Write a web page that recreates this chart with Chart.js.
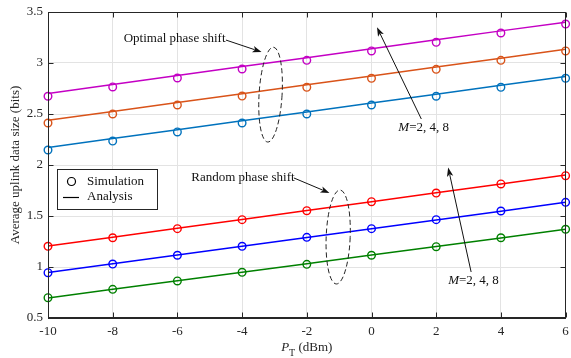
<!DOCTYPE html>
<html><head><meta charset="utf-8">
<script src="https://cdn.jsdelivr.net/npm/chart.js@4/dist/chart.umd.min.js"></script>
<style>html,body{margin:0;padding:0;background:#fff;}#wrap{width:571px;height:358px;position:relative;}</style>
</head><body><div id="wrap"><canvas id="c"></canvas></div>
<script>
// ---- data ----
const powerDbm = [-10, -8, -6, -4, -2, 0, 2, 4, 6];
const xTicks = [-10, -8, -6, -4, -2, 0, 2, 4, 6];
const yTicks = [0.5, 1, 1.5, 2, 2.5, 3, 3.5];

// Optimal phase shift (M = 8, 4, 2)
const optM8Sim = [2.674, 2.765, 2.853, 2.941, 3.026, 3.118, 3.203, 3.294, 3.382];
const optM8Ana = [2.702, 2.790, 2.877, 2.965, 3.052, 3.140, 3.227, 3.315, 3.400];
const optM4Sim = [2.412, 2.500, 2.588, 2.676, 2.762, 2.850, 2.938, 3.026, 3.118];
const optM4Ana = [2.438, 2.525, 2.612, 2.699, 2.786, 2.873, 2.960, 3.047, 3.134];
const optM2Sim = [2.147, 2.235, 2.324, 2.412, 2.500, 2.588, 2.674, 2.762, 2.850];
const optM2Ana = [2.172, 2.259, 2.346, 2.433, 2.520, 2.607, 2.694, 2.781, 2.868];

// Random phase shift (M = 8, 4, 2)
const rndM8Sim = [1.203, 1.287, 1.376, 1.464, 1.552, 1.640, 1.725, 1.814, 1.895];
const rndM8Ana = [1.205, 1.292, 1.379, 1.466, 1.553, 1.640, 1.727, 1.814, 1.901];
const rndM4Sim = [0.944, 1.029, 1.115, 1.203, 1.291, 1.376, 1.464, 1.549, 1.634];
const rndM4Ana = [0.945, 1.031, 1.117, 1.203, 1.289, 1.375, 1.461, 1.547, 1.635];
const rndM2Sim = [0.699, 0.781, 0.863, 0.948, 1.026, 1.115, 1.199, 1.287, 1.370];
const rndM2Ana = [0.697, 0.781, 0.865, 0.949, 1.033, 1.117, 1.201, 1.285, 1.369];

const seriesColors = ['#c400c4', '#d95319', '#0072bd', '#ff0000', '#0000ff', '#008000'];

// annotation anchors in data units
const optText = {x: -7.66, y: 3.235, label: 'Optimal phase shift'};
const optArrow = {x1: -4.50, y1: 3.225, x2: -3.40, y2: 3.108};
const optEllipse = {x: -3.12, y: 2.69};
const rndText = {x: -5.57, y: 1.873, label: 'Random phase shift'};
const rndArrow = {x1: -2.40, y1: 1.873, x2: -1.30, y2: 1.726};
const rndEllipse = {x: -1.03, y: 1.294};
const mLabel1 = {x: 0.83, y: 2.363};
const mArrow1 = {x1: 1.54, y1: 2.451, x2: 0.17, y2: 3.35};
const mLabel2 = {x: 2.37, y: 0.863};
const mArrow2 = {x1: 3.08, y1: 0.951, x2: 2.37, y2: 1.975};

const pts = arr => powerDbm.map((p, i) => ({x: p, y: arr[i]}));
const sims = [optM8Sim, optM4Sim, optM2Sim, rndM8Sim, rndM4Sim, rndM2Sim];
const anas = [optM8Ana, optM4Ana, optM2Ana, rndM8Ana, rndM4Ana, rndM2Ana];

const datasets = [];
anas.forEach((a, i) => datasets.push({
  data: pts(a), borderColor: seriesColors[i], borderWidth: 1.5,
  pointRadius: 0, showLine: true, fill: false, tension: 0
}));
sims.forEach((s, i) => datasets.push({
  data: pts(s), borderColor: seriesColors[i], backgroundColor: 'rgba(0,0,0,0)',
  showLine: false, pointRadius: 3.8, pointBorderWidth: 1.4, pointStyle: 'circle', clip: false
}));

const SERIF = '"Liberation Serif", "Times New Roman", serif';
const INK = '#262626';

const deco = {
  id: 'deco',
  afterDatasetsDraw(chart) {
    const {ctx, chartArea: a, scales: {x, y}} = chart;
    const X = v => x.getPixelForValue(v), Y = v => y.getPixelForValue(v);
    ctx.save();
    ctx.strokeStyle = INK; ctx.lineWidth = 1;
    const L = Math.round(a.left) + 0.5, R = Math.round(a.right) - 0.5;
    const T = Math.round(a.top) + 0.5, B = Math.round(a.bottom) - 0.5;
    ctx.beginPath();
    xTicks.forEach(v => {
      const px = Math.round(X(v)) + 0.5;
      ctx.moveTo(px, B); ctx.lineTo(px, B - 5);
      ctx.moveTo(px, T); ctx.lineTo(px, T + 5);
    });
    yTicks.forEach(v => {
      const py = Math.round(Y(v)) + 0.5;
      ctx.moveTo(L, py); ctx.lineTo(L + 5, py);
      ctx.moveTo(R, py); ctx.lineTo(R - 5, py);
    });
    ctx.stroke();
    ctx.strokeRect(L, T, R - L, B - T);

    // annotations
    ctx.fillStyle = '#111'; ctx.strokeStyle = '#111';
    ctx.font = '13px ' + SERIF; ctx.textBaseline = 'middle'; ctx.textAlign = 'left';
    ctx.fillText(optText.label, X(optText.x), Y(optText.y));
    ctx.fillText(rndText.label, X(rndText.x), Y(rndText.y));
    const mtext = (p) => {
      ctx.font = 'italic 13px ' + SERIF;
      ctx.fillText('M', X(p.x), Y(p.y));
      const w = ctx.measureText('M').width;
      ctx.font = '13px ' + SERIF;
      ctx.fillText('=2, 4, 8', X(p.x) + w, Y(p.y));
    };
    mtext(mLabel1); mtext(mLabel2);

    const arrow = (ar) => {
      const x1 = X(ar.x1), y1 = Y(ar.y1), x2 = X(ar.x2), y2 = Y(ar.y2);
      const ang = Math.atan2(y2 - y1, x2 - x1);
      const hl = 9, hw = 3.2;
      ctx.lineWidth = 1;
      ctx.beginPath(); ctx.moveTo(x1, y1);
      ctx.lineTo(x2 - hl * 0.8 * Math.cos(ang), y2 - hl * 0.8 * Math.sin(ang)); ctx.stroke();
      ctx.beginPath();
      ctx.moveTo(x2, y2);
      ctx.lineTo(x2 - hl * Math.cos(ang) + hw * Math.sin(ang), y2 - hl * Math.sin(ang) - hw * Math.cos(ang));
      ctx.lineTo(x2 - hl * 0.75 * Math.cos(ang), y2 - hl * 0.75 * Math.sin(ang));
      ctx.lineTo(x2 - hl * Math.cos(ang) - hw * Math.sin(ang), y2 - hl * Math.sin(ang) + hw * Math.cos(ang));
      ctx.closePath(); ctx.fill();
    };
    arrow(optArrow); arrow(rndArrow); arrow(mArrow1); arrow(mArrow2);

    const ell = (e, rx, ry, rot) => {
      ctx.save();
      ctx.setLineDash([5, 3]); ctx.lineWidth = 1; ctx.strokeStyle = '#222';
      ctx.beginPath(); ctx.ellipse(X(e.x), Y(e.y), rx, ry, rot, 0, Math.PI * 2); ctx.stroke();
      ctx.restore();
    };
    ell(optEllipse, 11.5, 47.5, 0.06);
    ell(rndEllipse, 12, 47, 0.04);

    // legend
    const lx = a.left + 9, ly = a.top + 157, lw = 100, lh = 40;
    ctx.fillStyle = '#fff'; ctx.fillRect(lx, ly, lw, lh);
    ctx.strokeStyle = INK; ctx.lineWidth = 1;
    ctx.strokeRect(Math.round(lx) + 0.5, Math.round(ly) + 0.5, lw, lh);
    ctx.strokeStyle = '#000'; ctx.lineWidth = 1.2;
    ctx.beginPath(); ctx.arc(lx + 14.5, ly + 12.5, 4, 0, Math.PI * 2); ctx.stroke();
    ctx.beginPath(); ctx.moveTo(lx + 6, ly + 28.5); ctx.lineTo(lx + 22, ly + 28.5); ctx.stroke();
    ctx.fillStyle = '#111'; ctx.font = '13px ' + SERIF; ctx.textBaseline = 'middle';
    ctx.fillText('Simulation', lx + 30, ly + 12.5);
    ctx.fillText('Analysis', lx + 30, ly + 28);

    // x title P_T (dBm)
    const cx = (a.left + a.right) / 2, by = 351;
    ctx.font = 'italic 13px ' + SERIF; const wP = ctx.measureText('P').width;
    ctx.font = '10px ' + SERIF; const wT = ctx.measureText('T').width;
    ctx.font = '13px ' + SERIF; const wD = ctx.measureText(' (dBm)').width;
    let sx = cx - (wP + wT + wD) / 2;
    ctx.fillStyle = INK; ctx.textBaseline = 'alphabetic';
    ctx.font = 'italic 13px ' + SERIF; ctx.fillText('P', sx, by); sx += wP;
    ctx.font = '10px ' + SERIF; ctx.fillText('T', sx, by + 5); sx += wT;
    ctx.font = '13px ' + SERIF; ctx.fillText(' (dBm)', sx, by);
    ctx.restore();
  }
};

new Chart(document.getElementById('c'), {
  type: 'scatter',
  data: {datasets},
  options: {
    responsive: true, maintainAspectRatio: false, animation: false, devicePixelRatio: 1,
    layout: {padding: {top: 12, right: 0, left: 0, bottom: 0}},
    plugins: {legend: {display: false}, tooltip: {enabled: false}},
    scales: {
      x: {
        type: 'linear', min: -10, max: 6,
        afterBuildTicks: s => { s.ticks = xTicks.map(v => ({value: v})); },
        afterFit: s => { s.height = 40; s.paddingLeft = 0; s.paddingRight = 0; },
        grid: {color: '#e3e3e3', drawTicks: false},
        border: {color: INK},
        ticks: {padding: 6, color: INK, font: {family: SERIF, size: 13}, callback: v => String(v), maxRotation: 0}
      },
      y: {
        min: 0.5, max: 3.5,
        afterBuildTicks: s => { s.ticks = yTicks.map(v => ({value: v})); },
        afterFit: s => { s.width = 48; s.paddingTop = 0; s.paddingBottom = 0; },
        grid: {color: '#e3e3e3', drawTicks: false},
        border: {color: INK},
        ticks: {padding: 5, color: INK, font: {family: SERIF, size: 13}, callback: v => String(v)},
        title: {display: true, text: 'Average uplink data size (bits)', color: INK,
                font: {family: SERIF, size: 13}, padding: {top: 8, bottom: 0}}
      }
    }
  },
  plugins: [deco]
});
</script>
</body></html>
